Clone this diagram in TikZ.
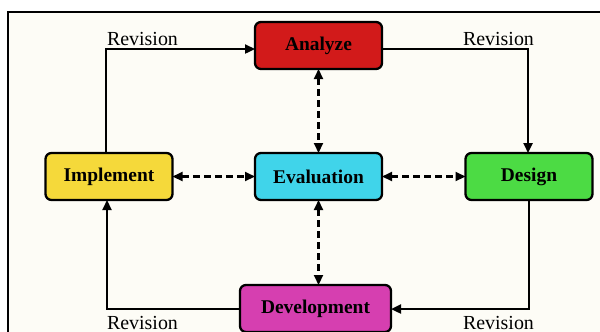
\documentclass[tikz,border=0pt]{standalone}
\usepackage{fontspec}
\setmainfont{Liberation Serif}
\usetikzlibrary{arrows.meta}
\definecolor{bgcol}{HTML}{FDFCF6}
\definecolor{cana}{HTML}{D21A1A}
\definecolor{cimp}{HTML}{F5D93A}
\definecolor{ceva}{HTML}{40D4EA}
\definecolor{cdes}{HTML}{4CDB44}
\definecolor{cdev}{HTML}{D63FB0}
\tikzset{
  box/.style={draw=black, line width=2.3bp, rounded corners=6bp, inner sep=0pt, outer sep=0pt,
    minimum height=47bp, minimum width=127bp, font=\fontsize{19.5}{22}\selectfont\bfseries},
  arr/.style={line width=2.3bp, -{Triangle[length=10bp,width=9bp]}},
  darr/.style={line width=2.1bp, dash pattern=on 7bp off 4bp,
    {Triangle[length=10bp,width=9bp]}-{Triangle[length=10bp,width=9bp]}},
  rev/.style={font=\fontsize{20}{24}\selectfont, inner sep=0pt, anchor=base}
}
\begin{document}
\begin{tikzpicture}[x=1bp,y=-1bp]
\useasboundingbox (0,0) rectangle (600,331);
\fill[white] (0,0) rectangle (600,331);
\draw[line width=1.8bp, fill=bgcol] (8,12) rectangle (620,350);

\node[box, fill=cana] (ana) at (318.5,45.5) {Analyze};
\node[box, fill=cimp] (imp) at (109,176.5) {Implement};
\node[box, fill=ceva] (eva) at (318.5,176.5) {Evaluation};
\node[box, fill=cdes] (des) at (529,176.5) {Design};
\node[box, fill=cdev, minimum width=151bp] (dev) at (315.5,308.5) {Development};

\coordinate (L) at (106,0);
\coordinate (L2) at (107,0);
\coordinate (T) at (0,49);
\coordinate (R) at (528,0);
\coordinate (B) at (0,309);

\draw[arr] (imp.north -| L) |- (ana.west |- T);
\draw[arr] (ana.east |- T) -| (des.north -| R);
\draw[arr] (des.south) |- (dev.east |- B);
\draw[arr] (dev.west |- B) -| (imp.south -| L2);

\draw[darr] (ana.south) -- (eva.north);
\draw[darr] (eva.south) -- (dev.north -| eva.south);
\draw[darr] (imp.east) -- (eva.west);
\draw[darr] (eva.east) -- (des.west);

\node[rev] (r1) at (142.5,45) {Revision};
\node[rev] (r2) at (498.5,45) {Revision};
\node[rev] (r3) at (142.5,329) {Revision};
\node[rev] (r4) at (498.5,329) {Revision};
\end{tikzpicture}
\end{document}
